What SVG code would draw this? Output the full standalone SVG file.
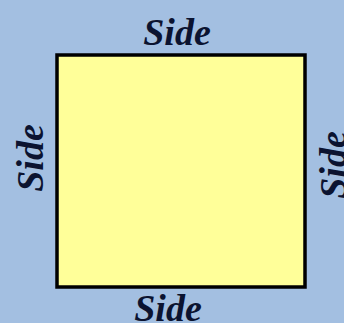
<svg xmlns="http://www.w3.org/2000/svg" width="344" height="323" viewBox="0 0 344 323">
<style>
.lbl{font-family:"Liberation Serif","Times New Roman",serif;font-weight:bold;font-style:italic;font-size:38px;fill:#0b1330;text-anchor:middle}
</style>
<rect x="0" y="0" width="344" height="323" fill="#a3bfe1"/>
<g id="square">
<rect x="57" y="55" width="248" height="232" fill="#ffff99" stroke="#000" stroke-width="3.5"/>
</g>
<g id="labels">
<text class="lbl" x="177" y="45">Side</text>
<text class="lbl" x="168" y="321">Side</text>
<text class="lbl" transform="translate(43,158) rotate(-90)">Side</text>
<text class="lbl" transform="translate(346,165) rotate(-90)">Side</text>
</g>
</svg>
